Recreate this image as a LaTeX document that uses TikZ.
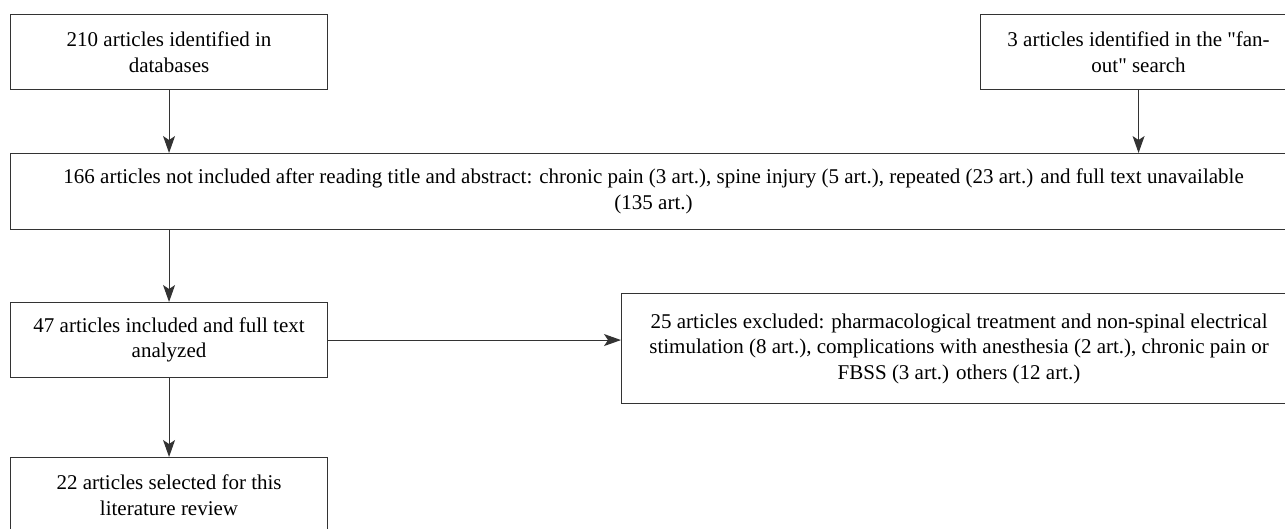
\documentclass[tikz,border=0pt]{standalone}
\usepackage{fontspec}
\setmainfont{Liberation Serif}[Ligatures=TeXOff]
\usetikzlibrary{arrows.meta, positioning}

\begin{document}
\begin{tikzpicture}[
    box/.style={draw=black!80, line width=1.1pt, fill=white, align=center, anchor=north west,
               inner sep=4pt, font=\fontsize{21}{25.5}\selectfont},
    arrow/.style={-{Stealth[length=17pt, width=12pt, inset=4pt]}, line width=1.1pt, draw=black!80}
]
\useasboundingbox (0,0) rectangle (1285pt,-528pt);
\node[box, minimum width=317pt, minimum height=75pt] (db) at (10pt,-14pt) {210 articles identified in\\databases};
\node[box, minimum width=316pt, minimum height=75pt] (fanout) at (980pt,-14pt)
    {3 articles identified in the "fan-\\out" search};
\node[box, minimum width=1286pt, minimum height=76pt] (screen) at (10pt,-153pt)
    {166 articles not included after reading title and abstract: chronic pain (3 art.), spine injury (5 art.), repeated (23 art.) and full text unavailable\\(135 art.)};
\node[box, minimum width=317pt, minimum height=75pt] (fulltext) at (10pt,-302pt) {47 articles included and full text\\analyzed};
\node[box, minimum width=675pt, minimum height=110pt] (excluded) at (621pt,-293pt)
    {25 articles excluded: pharmacological treatment and non-spinal electrical\\stimulation (8 art.), complications with anesthesia (2 art.), chronic pain or\\FBSS (3 art.) others (12 art.)};
\node[box, minimum width=317pt, minimum height=75pt] (selected) at (10pt,-457pt) {22 articles selected for this\\literature review};
\draw[arrow] (db) -- (db |- screen.north);
\draw[arrow] (fanout) -- (fanout |- screen.north);
\draw[arrow] (screen.south -| fulltext) -- (fulltext);
\draw[arrow] (fulltext.east) -- (fulltext.east -| excluded.west);
\draw[arrow] (fulltext) -- (selected);
\end{tikzpicture}
\end{document}
